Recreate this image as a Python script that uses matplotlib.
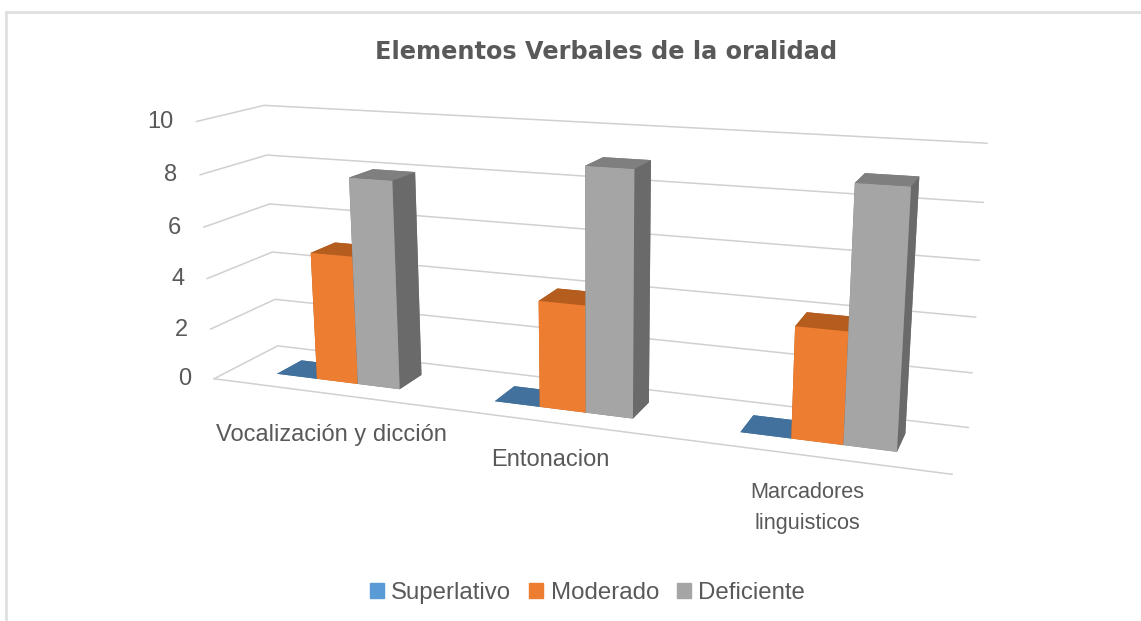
import numpy as np
import matplotlib
matplotlib.use('Agg')
import matplotlib.pyplot as plt
from matplotlib.lines import Line2D
from matplotlib.patches import Patch
from mpl_toolkits.mplot3d import proj3d

W, H = 1141, 621
titulo = 'Elementos Verbales de la oralidad'
series = ['Superlativo', 'Moderado', 'Deficiente']
superlativo = [0, 0, 0]
moderado = [5, 4, 4]
deficiente = [8, 9, 9]
z_ticks = [0, 2, 4, 6, 8, 10]

plt.rcParams['font.family'] = ['Liberation Sans', 'DejaVu Sans']
fig = plt.figure(figsize=(W/100, H/100), dpi=100, facecolor='white')

def pt(x, y):
    # pixel de la imagen -> fraccion de figura
    return x/W, 1-y/H

# camara ajustada a las esquinas de la grafica original
escala, tx, ty = 4377.221, 571.028, 351.035
ax = fig.add_subplot(projection='3d')
ax.view_init(14.2735, -68.8958, 0.2862)
ax.set_proj_type('persp', focal_length=0.3362)
ax.set_box_aspect((1, 0.1637, 0.359))
ax.set_xlim(0, 3)
ax.set_ylim(0, 1)
ax.set_zlim(0, 10)
ax.set_axis_off()
ax.patch.set_visible(False)
ax.computed_zorder = False
vl = ax.viewLim
L = escala*(vl.x1-vl.x0)
ax.set_position([(tx+escala*vl.x0)/W, (ty+escala*vl.y0)/H, L/W, L/H])

# lineas de division: pared izquierda y pared del fondo
gris = '#d0d0d0'
M = ax.get_proj()
for z in z_ticks:
    ax.plot([0, 0, 3], [0, 1, 1], [z, z, z], color=gris, lw=1.1, zorder=1, clip_on=False)
    u, v, _ = proj3d.proj_transform(0, 0, z, M)
    ax.annotate(str(z), xy=(u, v), xytext=(-16.5, -0.5), textcoords='offset points', ha='right', va='center',
                fontsize=17, color='#595959', annotation_clip=False)
ax.plot([0, 3], [0, 0], [0, 0], color=gris, lw=1.1, zorder=1, clip_on=False)

# caras en orden -z, +z, -y, +y, -x, +x
colores = [
    ['#41719c', '#41719c', '#5b9bd5', '#41719c', '#41719c', '#3b6a94'],
    ['#b55d1f', '#b55d1f', '#ed7d31', '#b55d1f', '#b55d1f', '#a0541c'],
    ['#7f7f7f', '#7f7f7f', '#a5a5a5', '#7f7f7f', '#7f7f7f', '#6a6a6a'],
]
ancho = 0.1925
x_cat = np.arange(3)
for i, vals in enumerate([superlativo, moderado, deficiente]):
    col = ax.bar3d(x_cat+(1-3*ancho)/2+i*ancho, [0.3]*3, [0]*3, ancho, 0.4, vals,
                   color=colores[i]*3, shade=False, linewidth=0, zorder=2+i)
    col.set_clip_on(False)

fig.text(*pt(606, 52), titulo, ha='center', va='center', fontsize=17.3, fontweight='bold',
         color='#595959', family=['DejaVu Sans'])
fig.text(*pt(331, 435), 'Vocalización y dicción', ha='center', va='center', fontsize=17, color='#595959')
fig.text(*pt(550, 460), 'Entonacion', ha='center', va='center', fontsize=17, color='#595959')
fig.text(*pt(750, 493), 'Marcadores', ha='left', va='center', fontsize=15.6, color='#595959')
fig.text(*pt(755, 523), 'linguisticos', ha='left', va='center', fontsize=15.6, color='#595959')

handles = [Patch(color=c) for c in ['#5b9bd5', '#ed7d31', '#a5a5a5']]
fig.legend(handles, series, loc='center', bbox_to_anchor=pt(587.5, 593), ncol=3, frameon=False,
           fontsize=17.3, labelcolor='#595959', handlelength=0.58, handleheight=0.58,
           handletextpad=0.3, columnspacing=0.75)

# borde del recuadro
fig.add_artist(Line2D([5.5/W, 1], [1-11.5/H, 1-11.5/H], color='#e0e0e0', lw=2))
fig.add_artist(Line2D([6/W, 6/W], [0, 1-11.5/H], color='#e0e0e0', lw=2))

fig.savefig('out.png', dpi=100)
